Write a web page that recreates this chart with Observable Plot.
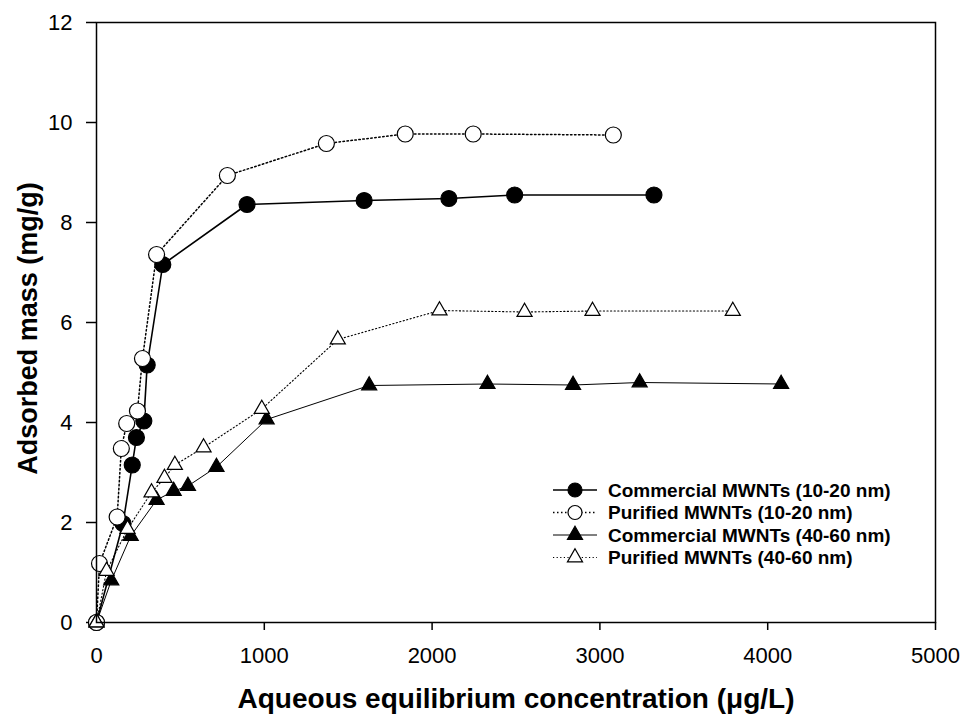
<!DOCTYPE html>
<html><head><meta charset="utf-8">
<script src="https://cdn.jsdelivr.net/npm/d3@7"></script>
<script src="https://cdn.jsdelivr.net/npm/@observablehq/plot@0.6"></script>
<style>body{margin:0;background:#fff}</style>
</head><body><div id="chart"></div>
<script>
const xTicks = [0, 1000, 2000, 3000, 4000, 5000];
const yTicks = [0, 2, 4, 6, 8, 10, 12];
const xTitle = "Aqueous equilibrium concentration (\u03bcg/L)";
const yTitle = "Adsorbed mass (mg/g)";

const seriesNames = ["Commercial MWNTs (10-20 nm)", "Purified MWNTs (10-20 nm)", "Commercial MWNTs (40-60 nm)", "Purified MWNTs (40-60 nm)"];

const com1020X = [0, 158, 213, 238, 282, 302, 395, 897, 1595, 2100, 2492, 3322];
const com1020Y = [0, 1.98, 3.15, 3.70, 4.03, 5.15, 7.16, 8.36, 8.44, 8.48, 8.55, 8.55];

const pur1020X = [0, 18, 123, 148, 180, 244, 274, 358, 780, 1370, 1840, 2245, 3080];
const pur1020Y = [0, 1.18, 2.11, 3.48, 3.98, 4.23, 5.28, 7.36, 8.94, 9.58, 9.77, 9.77, 9.75];

const com4060X = [0, 88, 204, 358, 460, 545, 715, 1014, 1625, 2330, 2840, 3237, 4080];
const com4060Y = [0, 0.84, 1.73, 2.45, 2.63, 2.73, 3.11, 4.06, 4.74, 4.77, 4.75, 4.80, 4.77];

const pur4060X = [0, 60, 185, 328, 405, 467, 638, 985, 1438, 2044, 2551, 2956, 3792];
const pur4060Y = [0, 1.03, 1.87, 2.60, 2.89, 3.15, 3.50, 4.27, 5.66, 6.24, 6.21, 6.23, 6.23];

const rows = (xs, ys) => xs.map((x, i) => ({x, y: ys[i]}));
const styles = [
  {data: rows(com1020X, com1020Y), symbol: "circle", r: 8, fill: "black", sw: 1.6, dash: null},
  {data: rows(pur1020X, pur1020Y), symbol: "circle", r: 8, fill: "white", sw: 1.5, dash: "1.5,2.5"},
  {data: rows(com4060X, com4060Y), symbol: "triangle", r: 5.6, fill: "black", sw: 1, dash: null},
  {data: rows(pur4060X, pur4060Y), symbol: "triangle", r: 5.6, fill: "white", sw: 1.1, dash: "1.2,2.4"}
];

const seriesMarks = styles.flatMap(s => [
  Plot.line(s.data, {x: "x", y: "y", stroke: "black", strokeWidth: s.sw, strokeDasharray: s.dash}),
  Plot.dot(s.data, {x: "x", y: "y", symbol: s.symbol, r: s.r, fill: s.fill, stroke: "black", strokeWidth: 1.2})
]);

const font = '"Liberation Sans", Arial, Helvetica, sans-serif';
const chart = Plot.plot({
  width: 962, height: 716,
  marginTop: 22, marginRight: 27, marginBottom: 94, marginLeft: 96,
  style: {fontFamily: font, background: "white", color: "black"},
  x: {domain: [0, 5000]},
  y: {domain: [0, 12]},
  marks: [
    Plot.axisX({ticks: xTicks, tickSize: 8, tickPadding: 17, fontSize: 22, strokeWidth: 1.5, label: null, tickFormat: d3.format("d")}),
    Plot.axisY({ticks: yTicks, tickSize: 10, tickPadding: 14, fontSize: 22, strokeWidth: 1.5, label: null}),
    Plot.text([xTitle], {frameAnchor: "bottom", lineAnchor: "top", textAnchor: "middle", dy: 66, fontSize: 28, fontWeight: "bold"}),
    Plot.text([yTitle], {frameAnchor: "left", textAnchor: "middle", lineAnchor: "middle", rotate: -90, dx: -68, dy: 6, fontSize: 27, fontWeight: "bold"}),
    ...seriesMarks,
    Plot.frame({stroke: "black", strokeWidth: 1.5})
  ]
});
document.getElementById("chart").appendChild(chart);

// legend
const svg = d3.select(chart);
const lg = svg.append("g").attr("font-family", font).attr("text-anchor", "start");
const rowY = [490, 512.5, 535, 557.5];
styles.forEach((s, i) => {
  const g = lg.append("g").attr("transform", `translate(0,${rowY[i]})`);
  g.append("line").attr("x1", 553).attr("x2", 597).attr("y1", 0).attr("y2", 0)
    .attr("stroke", "black").attr("stroke-width", s.sw).attr("stroke-dasharray", s.dash);
  const size = s.symbol === "circle" ? Math.PI * 7 * 7 : Math.PI * s.r * s.r;
  g.append("path").attr("transform", "translate(575,0)")
    .attr("d", d3.symbol(s.symbol === "circle" ? d3.symbolCircle : d3.symbolTriangle, size)())
    .attr("fill", s.fill).attr("stroke", "black").attr("stroke-width", 1.2);
  g.append("text").attr("x", 608).attr("y", 0).attr("dy", "0.35em").attr("text-anchor", "start")
    .attr("font-size", 19).attr("font-weight", "bold").attr("fill", "black").text(seriesNames[i]);
});
</script>
</body></html>
